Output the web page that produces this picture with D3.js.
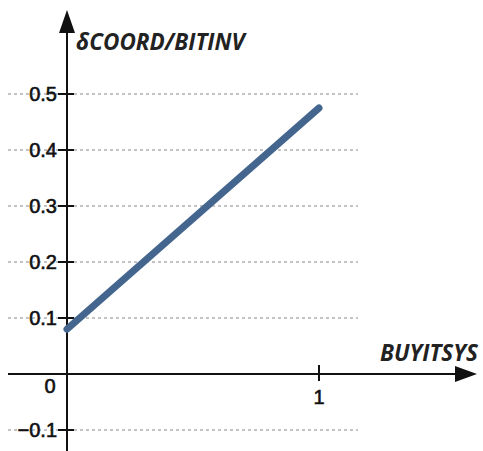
<!DOCTYPE html>
<html>
<head>
<meta charset="utf-8">
<script src="https://cdn.jsdelivr.net/npm/d3@7"></script>
<style>
  html, body { margin: 0; padding: 0; background: #fff; }
  svg { display: block; }
</style>
</head>
<body>
<script>
// DATA
const xValues = [0, 1];
const yValues = [0.08, 0.475];
const yTicks = [-0.1, 0.1, 0.2, 0.3, 0.4, 0.5];
const xTicks = [1];
const xLabel = 'BUYITSYS';
const yLabel = 'δCOORD/BITINV';

// DEFS
const width = 483;
const height = 451;
const lineColor = '#44668e';
const tickFont = '20px "Liberation Sans", Arial, sans-serif';
const titleFont = 'italic bold 22.5px "Open Sans", sans-serif';

const svg = d3.select('body').append('svg').attr('width', width).attr('height', height);

const x = d3.scaleLinear().domain([0, 1]).range([67, 319]);
const y = d3.scaleLinear().domain([0, 0.5]).range([374, 94]);

// GRID
svg.append('g').selectAll('line')
  .data(yTicks)
  .enter().append('line')
    .attr('x1', 8)
    .attr('x2', 358)
    .attr('y1', d => y(d))
    .attr('y2', d => y(d))
    .attr('stroke', '#888')
    .attr('stroke-width', 1)
    .attr('stroke-dasharray', '3,3');

// AXES
svg.append('line')
  .attr('x1', 8).attr('x2', 460)
  .attr('y1', y(0)).attr('y2', y(0))
  .attr('stroke', '#111').attr('stroke-width', 2);
svg.append('path')
  .attr('d', `M477,${y(0)} L455,${y(0) - 8} L455,${y(0) + 8} Z`)
  .attr('fill', '#111');

svg.append('line')
  .attr('x1', x(0)).attr('x2', x(0))
  .attr('y1', height).attr('y2', 28)
  .attr('stroke', '#111').attr('stroke-width', 2);
svg.append('path')
  .attr('d', `M${x(0)},10 L${x(0) - 8},33 L${x(0) + 8},33 Z`)
  .attr('fill', '#111');

// y ticks
const yTickG = svg.append('g').selectAll('g')
  .data(yTicks)
  .enter().append('g')
    .attr('transform', d => `translate(0, ${y(d)})`);
yTickG.append('line')
  .attr('x1', x(0) - 9).attr('x2', x(0) + 7)
  .attr('stroke', '#111').attr('stroke-width', 2);
yTickG.append('text')
  .attr('x', x(0) - 10)
  .attr('y', 7)
  .attr('text-anchor', 'end')
  .style('font', tickFont)
  .attr('fill', '#111')
  .attr('stroke', '#111')
  .attr('stroke-width', 0.6)
  .text(d => d3.format('.1f')(d));

// x ticks
const xTickG = svg.append('g').selectAll('g')
  .data(xTicks)
  .enter().append('g')
    .attr('transform', d => `translate(${x(d)}, ${y(0)})`);
xTickG.append('line')
  .attr('y1', -9).attr('y2', 7)
  .attr('stroke', '#111').attr('stroke-width', 2);
xTickG.append('text')
  .attr('y', 30)
  .attr('text-anchor', 'middle')
  .style('font', tickFont)
  .attr('fill', '#111')
  .attr('stroke', '#111')
  .attr('stroke-width', 0.6)
  .text(d => d);

// origin label
svg.append('text')
  .attr('x', 50)
  .attr('y', 393)
  .attr('text-anchor', 'middle')
  .style('font', tickFont)
  .attr('fill', '#111')
  .attr('stroke', '#111')
  .attr('stroke-width', 0.6)
  .text('0');

// LINE
const pts = xValues.map((d, i) => [x(d), y(yValues[i])]);
svg.append('path')
  .attr('d', d3.line()(pts))
  .attr('fill', 'none')
  .attr('stroke', lineColor)
  .attr('stroke-width', 7)
  .attr('stroke-linecap', 'round');

// LABELS
svg.append('text')
  .attr('x', 76)
  .attr('y', 50)
  .style('font', titleFont)
  .attr('fill', '#222')
  .text(yLabel);
svg.append('text')
  .attr('x', 380)
  .attr('y', 361)
  .style('font', titleFont)
  .attr('fill', '#222')
  .text(xLabel);
</script>
</body>
</html>
